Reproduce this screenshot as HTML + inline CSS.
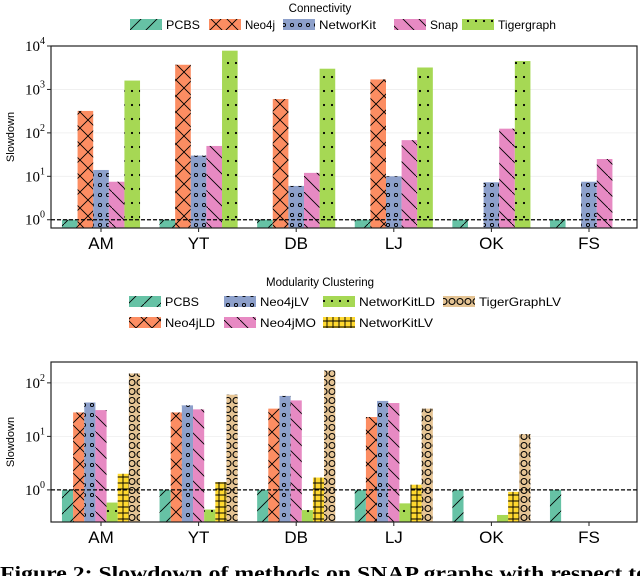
<!DOCTYPE html>
<html><head><meta charset="utf-8"><style>
body{margin:0;background:#fff;}
svg{display:block;font-family:"Liberation Sans",sans-serif;}
</style></head><body>
<svg id="c" width="640" height="576" viewBox="0 0 640 576" xmlns="http://www.w3.org/2000/svg">
<defs>
<pattern id="p-slash" width="16" height="16" patternUnits="userSpaceOnUse"><path d="M-4,20 L20,-4" stroke="#000" stroke-width="0.9"/></pattern>
<pattern id="p-x" width="16" height="16" patternUnits="userSpaceOnUse"><path d="M0,0 L16,16 M16,0 L0,16" stroke="#000" stroke-width="0.9"/></pattern>
<pattern id="p-o" width="8" height="10" patternUnits="userSpaceOnUse"><circle cx="4" cy="5" r="1.6" fill="none" stroke="#000" stroke-width="0.9"/></pattern>
<pattern id="p-back" width="16" height="16" patternUnits="userSpaceOnUse"><path d="M-4,-4 L20,20" stroke="#000" stroke-width="0.9"/></pattern>
<pattern id="p-dot" width="8" height="14" patternUnits="userSpaceOnUse"><circle cx="4" cy="7" r="1.1" fill="#000"/></pattern>
<pattern id="p-plus" width="6" height="6" patternUnits="userSpaceOnUse"><path d="M3,0 V6 M0,3 H6" stroke="#000" stroke-width="0.9"/></pattern>
<pattern id="p-O" width="8" height="9" patternUnits="userSpaceOnUse"><circle cx="4" cy="4.5" r="3" fill="none" stroke="#000" stroke-width="1.1"/></pattern>
</defs>
<text x="320" y="12" text-anchor="middle" font-size="11.5">Connectivity</text>
<text x="320" y="286" text-anchor="middle" font-size="11.5">Modularity Clustering</text>
<text x="0" y="580" font-family="Liberation Serif,serif" font-weight="bold" font-size="20" textLength="648" lengthAdjust="spacingAndGlyphs">Figure 2: Slowdown of methods on SNAP graphs with respect to</text>
</svg>
<script>
const categories = ["AM","YT","DB","LJ","OK","FS"];
const topSeries = ["PCBS","Neo4j","NetworKit","Snap","Tigergraph"];
const topPCBS = [1,1,1,1,1,1];
const topNeo4j = [320,3700,600,1700,null,null];
const topNetworKit = [14,30,6,10,7.3,7.5];
const topSnap = [7.5,50,12,68,125,25];
const topTigergraph = [1600,7800,3000,3200,4500,null];
const topTicks = [0,1,2,3,4];
const botSeries = ["PCBS","Neo4jLD","Neo4jLV","Neo4jMO","NetworKitLD","NetworKitLV","TigerGraphLV"];
const botPCBS = [1,1,1,1,1,1];
const botNeo4jLD = [28,28,33,23,null,null];
const botNeo4jLV = [43,38,57,46,null,null];
const botNeo4jMO = [31,32,47,42,null,null];
const botNKLD = [0.58,0.43,0.42,0.56,0.34,null];
const botNKLV = [2.0,1.4,1.7,1.25,0.92,null];
const botTGLV = [150,60,170,33,11,null];
const botTicks = [0,1,2];

const NS="http://www.w3.org/2000/svg";
const svg=document.getElementById('c');
function mk(t,a,p){const e=document.createElementNS(NS,t);for(const k in a)e.setAttribute(k,a[k]);(p||svg).appendChild(e);return e;}
const styles={PCBS:["#66c2a5","p-slash"],Neo4j:["#fc8d62","p-x"],NetworKit:["#8da0cb","p-o"],Snap:["#e78ac3","p-back"],Tigergraph:["#a6d854","p-dot"],
Neo4jLD:["#fc8d62","p-x"],Neo4jLV:["#8da0cb","p-o"],Neo4jMO:["#e78ac3","p-back"],NetworKitLD:["#a6d854","p-dot"],NetworKitLV:["#ffd92f","p-plus"],TigerGraphLV:["#e5c494","p-O"]};
const x0=51,x1=637,step=97.6,cx0=101;
function xC(i){return cx0+i*step;}

function drawChart(pref,top,bottom,lmin,lmax,series,values,ticks){
  const y=v=>bottom-(Math.log10(v)-lmin)/(lmax-lmin)*(bottom-top);
  const g=mk('g',{});  
  const bw=0.8*step/series.length;
  ticks.forEach(t=>{const l=mk('line',{x1:x0,x2:x1,y1:y(Math.pow(10,t)),y2:y(Math.pow(10,t)),stroke:"#eee","stroke-width":0.8},g);
    });
  series.forEach((s,si)=>{
    values[si].forEach((v,ci)=>{
      if(v==null)return;
      const bx=xC(ci)-0.4*step+si*bw, by=y(v);
      const r=mk('rect',{x:bx,y:by,width:bw,height:bottom-by,fill:styles[s][0]},g);
      
      
      const h=mk('rect',{x:bx,y:by,width:bw,height:bottom-by,fill:'url(#'+styles[s][1]+')'},g);
      
      
    });
  });
  const fr=mk('rect',{x:x0,y:top,width:x1-x0,height:bottom-top,fill:"none",stroke:"#222","stroke-width":1.2},g);
  
  const dl=mk('line',{x1:x0,x2:x1,y1:y(1),y2:y(1),stroke:"#000","stroke-width":1.3,"stroke-dasharray":"4,2"},g);
  
  ticks.forEach(t=>{
    const ty=y(Math.pow(10,t));
    mk('line',{x1:x0-4,x2:x0,y1:ty,y2:ty,stroke:"#222"},g);
    const tx=mk('text',{x:x0-6,y:ty+5,"text-anchor":"end","font-family":"Liberation Serif,serif","font-size":15},g);
    
    tx.textContent='10';
    const sp=mk('tspan',{dy:-7,"font-size":10},tx); sp.textContent=String(t);
  });
  categories.forEach((c,i)=>{
    mk('line',{x1:xC(i),x2:xC(i),y1:bottom,y2:bottom+4,stroke:"#222"},g);
    const tx=mk('text',{x:xC(i),y:bottom+21,"text-anchor":"middle","font-size":17},g);
    
    tx.textContent=c;
  });
  const yt=mk('text',{transform:`translate(14,${(top+bottom)/2}) rotate(-90)`,"text-anchor":"middle","font-size":11},g);
  
  yt.textContent='Slowdown';
}
drawChart('top',46,228,-0.19,4,topSeries,[topPCBS,topNeo4j,topNetworKit,topSnap,topTigergraph],topTicks);
drawChart('bottom',362,522,-0.6,2.39,botSeries,[botPCBS,botNeo4jLD,botNeo4jLV,botNeo4jMO,botNKLD,botNKLV,botTGLV],botTicks);

function legendItem(s,x,y,w){
  const g=mk('g',{});
  
  
  mk('rect',{x:x,y:y-6,width:32,height:11,fill:styles[s][0]},g);
  mk('rect',{x:x,y:y-6,width:32,height:11,fill:'url(#'+styles[s][1]+')'},g);
  const t=mk('text',{x:x+36,y:y+4,"font-size":12,textLength:w,lengthAdjust:"spacingAndGlyphs"},g); t.textContent=s;
}
[["PCBS",130,34],["Neo4j",209,30],["NetworKit",283,57],["Snap",394,28],["Tigergraph",462,58]].forEach(d=>legendItem(d[0],d[1],25,d[2]));
[["PCBS",129,302,34],["Neo4jLV",224,302,49],["NetworKitLD",323,302,76],["TigerGraphLV",443,302,82],
 ["Neo4jLD",129,323,50],["Neo4jMO",224,323,56],["NetworKitLV",323,323,74]].forEach(d=>legendItem(d[0],d[1],d[2],d[3]));
</script>
</body></html>
